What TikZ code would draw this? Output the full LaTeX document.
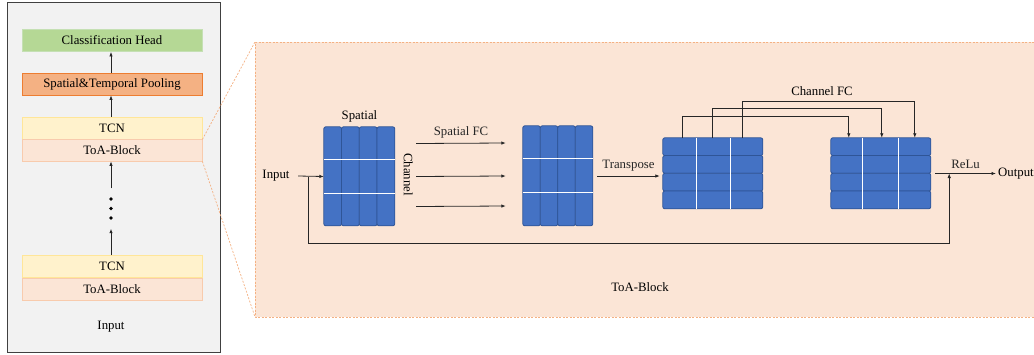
\documentclass[tikz,border=0pt]{standalone}
\usepackage{fontspec}
\setmainfont{Liberation Serif}
\usetikzlibrary{arrows.meta,calc}
\definecolor{panelgray}{RGB}{242,242,242}
\definecolor{headgreen}{RGB}{181,216,149}
\definecolor{headedge}{RGB}{197,224,180}
\definecolor{poolorange}{RGB}{244,177,131}
\definecolor{pooledge}{RGB}{237,125,49}
\definecolor{tcnyellow}{RGB}{255,242,204}
\definecolor{tcnedge}{RGB}{255,230,153}
\definecolor{toapeach}{RGB}{251,229,214}
\definecolor{toaedge}{RGB}{248,203,173}
\definecolor{featblue}{RGB}{68,114,196}
\definecolor{featedge}{RGB}{47,85,151}

\begin{document}
\begin{tikzpicture}[x=1pt, y=-1pt, font=\fontsize{12.8}{15}\selectfont,
    arr/.style={-{Latex[length=4.5pt,width=3.5pt]}, black!85, line width=0.8pt},
    layer/.style={minimum width=180pt, minimum height=22pt, inner sep=0pt, line width=0.8pt},
    blk/.style={inner sep=0pt},
    bar/.style={fill=featblue, draw=featedge, line width=0.8pt, rounded corners=2pt},
    cut/.style={white, line width=1pt},
    zoomline/.style={poolorange, dashed, dash pattern=on 2pt off 1.5pt, line width=0.7pt}]
    \useasboundingbox (0,0) rectangle (1034,354);

    % network stack
    \draw[draw=black!75, fill=panelgray, line width=0.8pt] (7,2) rectangle (220,352);
    \node[layer, fill=headgreen, draw=headedge] (head) at (112,40.5) {Classification Head};
    \node[layer, fill=poolorange, draw=pooledge] (pool) at (112,84) {Spatial\&Temporal Pooling};
    \node[layer, fill=tcnyellow, draw=tcnedge] (tcnA) at (112,128) {TCN};
    \node[layer, fill=toapeach, draw=toaedge] (toaA) at (112,150) {ToA-Block};
    \node[minimum height=40pt, inner sep=0pt] (dots) at (111,208.5) {};
    \foreach \dy in {-9.5,0,9.5}
        \fill ($(dots.center)+(0,\dy)$) circle (1.8pt);
    \node[layer, fill=tcnyellow, draw=tcnedge] (tcnB) at (112,266.5) {TCN};
    \node[layer, fill=toapeach, draw=toaedge] (toaB) at (112,289.5) {ToA-Block};
    \node (input) at (111,327) {Input};
    \draw[arr] (pool.north -| dots) -- (head.south -| dots);
    \draw[arr] (tcnA.north -| dots) -- (pool.south -| dots);
    \draw[arr] (dots.north) -- (toaA.south -| dots);
    \draw[arr] (tcnB.north -| dots) -- (dots.south);

    % zoomed ToA-Block
    \coordinate (pnw) at (255,42);
    \coordinate (psw) at (255,317);
    \fill[toapeach] (pnw) rectangle (1034,317);
    \draw[zoomline] (1034,42) -- (pnw) -- (psw) -- (1034,317);
    \draw[zoomline] (tcnA.south east) -- (pnw);
    \draw[zoomline] (toaA.south east) -- (psw);
    \node (toalabel) at (640,287) {ToA-Block};

    % spatial input
    \node[blk, minimum width=71pt, minimum height=99pt] (b1) at (359.5,176.5) {};
    \foreach \i in {0,...,3}
        \draw[bar] ($(b1.north west)+(\i*17.75,0)$) rectangle ++(17.75,99);
    \draw[cut] ($(b1.north west)+(0,33)$) -- ++(71,0);
    \draw[cut] ($(b1.north west)+(0,67)$) -- ++(71,0);
    \node[above=1pt] at (b1.north) {Spatial};
    \node[rotate=-90] at ($(b1.east)+(13,-2)$) {Channel};

    % after spatial FC
    \node[blk, minimum width=70pt, minimum height=100pt] (b2) at (558,176) {};
    \foreach \i in {0,...,3}
        \draw[bar] ($(b2.north west)+(\i*17.5,0)$) rectangle ++(17.5,100);
    \draw[cut] ($(b2.north west)+(0,33)$) -- ++(70,0);
    \draw[cut] ($(b2.north west)+(0,67)$) -- ++(70,0);

    % transposed
    \node[blk, minimum width=100pt, minimum height=71pt] (b3) at (713,173.5) {};
    \foreach \i in {0,...,3}
        \draw[bar] ($(b3.north west)+(0,\i*17.75)$) rectangle ++(100,17.75);
    \draw[cut] ($(b3.north west)+(34,0)$) -- ++(0,71);
    \draw[cut] ($(b3.north west)+(68,0)$) -- ++(0,71);

    % after channel FC
    \node[blk, minimum width=100pt, minimum height=71pt] (b4) at (881,173.5) {};
    \foreach \i in {0,...,3}
        \draw[bar] ($(b4.north west)+(0,\i*17.75)$) rectangle ++(100,17.75);
    \draw[cut] ($(b4.north west)+(32,0)$) -- ++(0,71);
    \draw[cut] ($(b4.north west)+(68,0)$) -- ++(0,71);

    % input, skip and output
    \node (in) at (276,176) {Input};
    \coordinate (split) at ($(b1.west)+(-15,0)$);
    \draw[arr] ([xshift=5pt]in.east) -- (b1.west);
    \node[anchor=west, inner sep=2pt] (out) at (996,173.5) {Output};
    \coordinate (join) at ($(b4.east)+(18,0)$);
    \draw[arr] ([xshift=4pt]b4.east) -- (out.west) node[midway, above=1pt] {ReLu};
    \draw[arr] (split) -- ++(0,67) -| (join);

    % spatial FC
    \draw[arr] ([shift={(21,-33)}]b1.east) -- ([shift={(-17,-33)}]b2.west)
        node[midway, above=1pt] {Spatial FC};
    \foreach \dy in {0,30}
        \draw[arr] ([shift={(21,\dy)}]b1.east) -- ([shift={(-17,\dy)}]b2.west);

    % transpose
    \draw[arr] ([xshift=4pt]b2.east) -- ([xshift=-3pt]b2.east -| b3.west)
        node[midway, above=1pt] {Transpose};

    % channel FC
    \foreach \s/\d/\h in {20/18/21, 50/51/29, 80/84/36}
        \draw[arr] ([xshift=\s pt]b3.north west) -- ++(0,-\h) -| ([xshift=\d pt]b4.north west);
    \node (chfc) at (822,91) {Channel FC};
\end{tikzpicture}
\end{document}
